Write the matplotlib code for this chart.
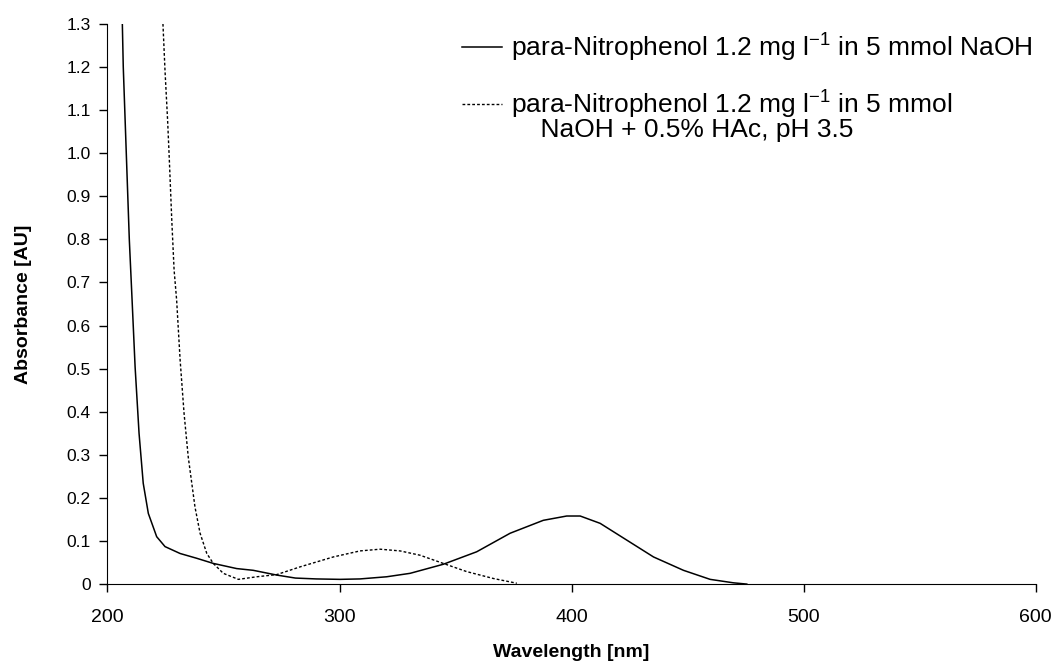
import numpy as np
import matplotlib
matplotlib.use("Agg")
import matplotlib.pyplot as plt

plt.rcParams['font.family'] = ['Liberation Sans', 'DejaVu Sans']
plt.rcParams['mathtext.fontset'] = 'custom'
plt.rcParams['mathtext.rm'] = 'Liberation Sans'
plt.rcParams['mathtext.it'] = 'Liberation Sans'

# NaOH spectrum (solid)
wl_base = [206.4, 206.8, 208.1, 209.4, 210.6, 211.9, 213.6, 215.4, 217.6, 221.2,
           224.8, 231.3, 238.4, 245.6, 255.7, 262.8, 272.9, 281.0, 290.0, 300.2,
           308.8, 320.3, 330.4, 344.7, 359.1, 373.5, 387.8, 397.9, 403.7, 412.3,
           423.8, 435.3, 448.2, 459.7, 469.7, 475.5]
abs_base = [1.30, 1.20, 1.00, 0.80, 0.659, 0.504, 0.350, 0.234, 0.164, 0.110,
            0.087, 0.071, 0.060, 0.048, 0.036, 0.032, 0.021, 0.014, 0.012, 0.011,
            0.012, 0.017, 0.025, 0.046, 0.075, 0.118, 0.148, 0.158, 0.158, 0.141,
            0.102, 0.063, 0.032, 0.011, 0.003, 0.0]

# acidified spectrum (dashed)
wl_acid = [223.9, 224.8, 225.9, 226.6, 227.7, 228.7, 229.8, 231.3, 233.0, 234.8,
           237.7, 239.9, 242.8, 245.6, 249.9, 256.4, 264.3, 272.9, 283.0, 297.3,
           308.8, 317.5, 326.1, 334.7, 344.7, 354.8, 366.3, 376.4]
abs_acid = [1.30, 1.19, 1.077, 0.991, 0.845, 0.729, 0.659, 0.520, 0.396, 0.295,
            0.179, 0.118, 0.071, 0.048, 0.025, 0.011, 0.017, 0.022, 0.040, 0.063,
            0.077, 0.081, 0.077, 0.067, 0.048, 0.029, 0.013, 0.002]

labels = ["para-Nitrophenol 1.2 mg l$^{-1}$ in 5 mmol NaOH",
          "para-Nitrophenol 1.2 mg l$^{-1}$ in 5 mmol\n    NaOH + 0.5% HAc, pH 3.5"]

fig = plt.figure(figsize=(10.59, 6.63), dpi=100)
ax = fig.add_axes([0.1015, 0.119, 0.8765, 0.845])

ax.plot(wl_base, abs_base, color='black', lw=1.1, label=labels[0])
ax.plot(wl_acid, abs_acid, color='black', lw=1.0, ls=(0, (2.0, 1.5)), label=labels[1])

ax.set_xlim(200, 600)
ax.set_ylim(0, 1.3)
ax.set_xticks([200, 300, 400, 500, 600])
yt = np.round(np.arange(0, 1.31, 0.1), 1)
ax.set_yticks(yt)
ax.set_yticklabels(['0'] + ['%.1f' % v for v in yt[1:]])
ax.tick_params(direction='out', length=6, width=1)
ax.tick_params(axis='y', labelsize=12.5, pad=6)
ax.tick_params(axis='x', labelsize=14, pad=12)
for s in ['top', 'right']:
    ax.spines[s].set_visible(False)

ax.set_xlabel('Wavelength [nm]', fontsize=14, fontweight='bold', labelpad=13)
ax.set_ylabel('Absorbance [AU]', fontsize=14, fontweight='bold', labelpad=25)

leg = ax.legend(loc='upper right', frameon=False, fontsize=19, handlelength=1.5,
                handletextpad=0.35, labelspacing=0.95, borderaxespad=0.0,
                bbox_to_anchor=(1.008, 1.005))
for t in leg.get_texts():
    t.set_linespacing(0.85)
# put the dashed handle next to the first line of its two-line label
h = leg.legend_handles[1]
h.set_ydata([v + 8.5 for v in h.get_ydata()])

fig.savefig('out.png', dpi=100)
